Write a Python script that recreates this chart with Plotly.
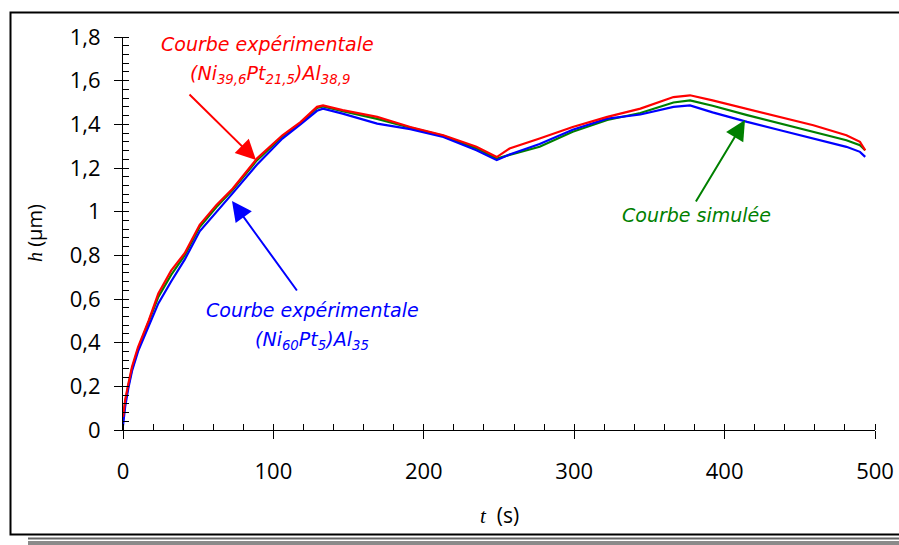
import plotly.graph_objects as go

# ---------------- data ----------------
t = [0, 1.5, 3.5, 6, 10, 17, 23.5, 32, 41, 51, 62, 73, 89, 106, 118, 129, 133,
     146, 169, 191, 213, 235, 248.5, 257, 277, 299, 322, 344, 366, 377, 392,
     415, 437, 459, 481, 490, 493.5]

h_red = [0.06, 0.14, 0.21, 0.29, 0.38, 0.50, 0.625, 0.73, 0.81, 0.94, 1.03, 1.106,
         1.243, 1.35, 1.41, 1.48, 1.487, 1.465, 1.434, 1.388, 1.35, 1.297, 1.25,
         1.289, 1.335, 1.388, 1.434, 1.472, 1.525, 1.533, 1.51, 1.472, 1.434,
         1.396, 1.35, 1.32, 1.281]

h_green = [0.04, 0.13, 0.20, 0.28, 0.37, 0.49, 0.61, 0.71, 0.80, 0.93, 1.02, 1.10,
           1.235, 1.345, 1.405, 1.475, 1.482, 1.46, 1.425, 1.385, 1.347, 1.29,
           1.243, 1.26, 1.297, 1.366, 1.42, 1.452, 1.50, 1.51, 1.485, 1.442,
           1.404, 1.366, 1.327, 1.304, 1.281]

h_blue = [0.02, 0.11, 0.19, 0.27, 0.36, 0.47, 0.58, 0.68, 0.78, 0.91, 1.0, 1.085,
          1.215, 1.335, 1.40, 1.462, 1.472, 1.449, 1.403, 1.378, 1.342, 1.281,
          1.236, 1.262, 1.31, 1.375, 1.426, 1.445, 1.48, 1.487, 1.455, 1.411,
          1.373, 1.335, 1.297, 1.274, 1.251]

x_tickvals = [0, 100, 200, 300, 400, 500]
x_ticktext = ["0", "100", "200", "300", "400", "500"]
y_tickvals = [0, 0.2, 0.4, 0.6, 0.8, 1.0, 1.2, 1.4, 1.6, 1.8]
y_ticktext = ["0", "0,2", "0,4", "0,6", "0,8", "1", "1,2", "1,4", "1,6", "1,8"]

# ---------------- layout geometry ----------------
W, H = 899, 545
L, R, T, B = 123, 24, 37, 115
PW, PH = W - L - R, H - T - B


def px(xp):
    return (xp - L) / PW


def py(yp):
    return (H - B - yp) / PH


RED, GREEN, BLUE = "#ff0000", "#008000", "#0000ff"
SANS = "Open Sans"
ITAL = "DejaVu Sans"

fig = go.Figure()
fig.add_trace(go.Scatter(x=t, y=h_green, mode="lines",
                         line=dict(color=GREEN, width=2.2), showlegend=False))
fig.add_trace(go.Scatter(x=t, y=h_blue, mode="lines",
                         line=dict(color=BLUE, width=2.2), showlegend=False))
fig.add_trace(go.Scatter(x=t, y=h_red, mode="lines",
                         line=dict(color=RED, width=2.2), showlegend=False))

axis_common = dict(showgrid=False, zeroline=False, showline=True,
                   linecolor="black", linewidth=1, tickcolor="black",
                   automargin=False,
                   tickfont=dict(family=SANS, size=22, color="black"))

fig.update_layout(
    width=W, height=H,
    margin=dict(l=L, r=R, t=T, b=B),
    paper_bgcolor="white", plot_bgcolor="white",
    xaxis=dict(range=[0, 500], tickvals=x_tickvals, ticktext=x_ticktext,
               ticks="outside", ticklen=8, ticklabelstandoff=14,
               minor=dict(dtick=20, tick0=0, ticks="inside", ticklen=6,
                          tickcolor="black"),
               **axis_common),
    yaxis=dict(range=[0, 1.8], tickvals=y_tickvals, ticktext=y_ticktext,
               ticks="outside", ticklen=8, ticklabelstandoff=9,
               minor=dict(dtick=0.04, tick0=0, ticks="inside", ticklen=6,
                          tickcolor="black"),
               **axis_common),
    xaxis2=dict(range=[0, 500], overlaying="x", anchor="y", side="bottom",
                tickvals=x_tickvals, ticks="inside", ticklen=6,
                showticklabels=False, showgrid=False, zeroline=False,
                showline=False, tickcolor="black", automargin=False),
    yaxis2=dict(range=[0, 1.8], overlaying="y", anchor="x", side="left",
                tickvals=y_tickvals, ticks="inside", ticklen=6,
                showticklabels=False, showgrid=False, zeroline=False,
                showline=False, tickcolor="black", automargin=False),
)
# dummy invisible trace so overlay axes render
fig.add_trace(go.Scatter(x=[None], y=[None], xaxis="x2", yaxis="y2",
                         showlegend=False, hoverinfo="skip"))

ann = []


def label(text, xp, yp, color, size=19, family=ITAL):
    ann.append(dict(text=text, x=px(xp), y=py(yp), xref="paper", yref="paper",
                    showarrow=False, xanchor="center", yanchor="middle",
                    font=dict(family=family, size=size, color=color)))


label("<i>Courbe expérimentale</i>", 267, 44, RED)
label("<i>(Ni<sub>39,6</sub>Pt<sub>21,5</sub>)Al<sub>38,9</sub></i>", 270, 74, RED)
label("<i>Courbe expérimentale</i>", 312, 310, BLUE)
label("<i>(Ni<sub>60</sub>Pt<sub>5</sub>)Al<sub>35</sub></i>", 312, 340, BLUE)
label("<i>Courbe simulée</i>", 696, 215, GREEN)


def arrow(x0, y0, x1, y1, color):
    ann.append(dict(text="", x=px(x1), y=py(y1), xref="x domain", yref="y domain",
                    ax=px(x0), ay=py(y0), axref="x domain", ayref="y domain",
                    showarrow=True, arrowhead=2, arrowsize=2, arrowwidth=2,
                    arrowcolor=color))


arrow(188, 93, 256, 160, RED)
arrow(298, 292, 232, 201, BLUE)
arrow(695, 203, 745, 120, GREEN)

# axis titles
ann.append(dict(text='<span style="font-family:Liberation Serif"><i>t</i></span>  (s)',
                x=px(499), y=py(515), xref="paper", yref="paper", showarrow=False,
                xanchor="center", yanchor="middle",
                font=dict(family=SANS, size=21, color="black")))
ann.append(dict(text='<span style="font-family:Liberation Serif"><i>h</i></span> (µm)',
                x=px(34), y=py(233), xref="paper", yref="paper", showarrow=False,
                textangle=-90, xanchor="center", yanchor="middle",
                font=dict(family=SANS, size=20, color="black")))
fig.update_layout(annotations=ann)

# frame and bottom bands
shapes = [
    dict(type="rect", xref="paper", yref="paper", x0=px(10.5), x1=px(910),
         y0=py(534.5), y1=py(12.5), line=dict(color="black", width=2)),
    dict(type="line", xref="paper", yref="paper", x0=px(28), x1=px(910),
         y0=py(538.5), y1=py(538.5), line=dict(color="#666666", width=2)),
    dict(type="rect", xref="paper", yref="paper", x0=px(28), x1=px(910),
         y0=py(545), y1=py(541), fillcolor="#8a8a8a", line=dict(width=0)),
]
fig.update_layout(shapes=shapes)

fig.write_html("out.html", config={"displayModeBar": False},
               post_script="document.body.style.margin='0';"
                           "document.body.style.overflow='hidden';")
